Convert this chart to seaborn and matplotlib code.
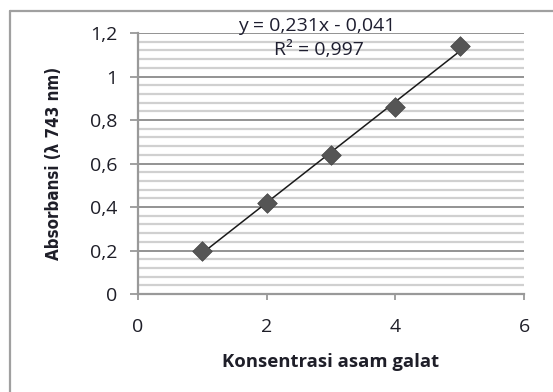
"""Calibration curve of gallic acid (absorbance vs concentration)."""

import matplotlib.pyplot as plt
import pandas as pd
import seaborn as sns
from matplotlib.lines import Line2D
from matplotlib.ticker import FixedLocator, MultipleLocator

# data
konsentrasi = [1, 2, 3, 4, 5]
absorbansi = [0.20, 0.42, 0.64, 0.86, 1.14]
x_ticks = [0, 2, 4, 6]
x_tick_labels = ["0", "2", "4", "6"]
y_ticks = [0, 0.2, 0.4, 0.6, 0.8, 1.0, 1.2]
y_tick_labels = ["0", "0,2", "0,4", "0,6", "0,8", "1", "1,2"]
equation_text = "y = 0,231x - 0,041"
r2_text = "R² = 0,997"

df = pd.DataFrame({"konsentrasi": konsentrasi, "absorbansi": absorbansi})

sns.set_style("white")
plt.rcParams["font.family"] = ["Open Sans", "DejaVu Sans"]

fig = plt.figure(figsize=(5.53, 3.92), dpi=100)
ax = fig.add_axes([0.2496, 0.25, 0.698, 0.6658])

# gridlines: light minor every 0.04, darker major every 0.2
ax.yaxis.set_minor_locator(MultipleLocator(0.04))
ax.grid(axis="y", which="minor", color="#d0d0d0", linewidth=1.6, zorder=0)
ax.grid(axis="y", which="major", color="#8a8a8a", linewidth=1.3, zorder=0)
ax.grid(axis="x", visible=False)
ax.set_axisbelow(True)

sns.regplot(data=df, x="konsentrasi", y="absorbansi", ci=None, scatter=False,
            truncate=True, color="#1a1a1a", line_kws={"linewidth": 1.1}, ax=ax)
sns.scatterplot(data=df, x="konsentrasi", y="absorbansi", marker="D", s=100,
                color="#555555", edgecolor="#444444", linewidth=0.5, zorder=3, ax=ax)

ax.set_xlim(0, 6)
ax.set_ylim(0, 1.2)
ax.xaxis.set_major_locator(FixedLocator(x_ticks))
ax.set_xticklabels(x_tick_labels)
ax.yaxis.set_major_locator(FixedLocator(y_ticks))
ax.set_yticklabels(y_tick_labels)

for side in ["top", "right"]:
    ax.spines[side].set_visible(False)
for side in ["left", "bottom"]:
    ax.spines[side].set_color("#999999")
    ax.spines[side].set_linewidth(1.6)

ax.tick_params(axis="y", which="major", left=True, length=6, width=1.3,
               color="#999999", labelsize=14, labelcolor="#1e1e28", pad=9)
ax.tick_params(axis="y", which="minor", left=False)
ax.tick_params(axis="x", bottom=True, length=4, width=1.3, color="#999999",
               labelsize=14, labelcolor="#1e1e28", pad=13)

ax.set_xlabel("Konsentrasi asam galat", fontsize=13.3, fontweight="bold",
              color="#1e1e28", va="center")
ax.xaxis.set_label_coords(0.5, -0.26)
ax.set_ylabel("Absorbansi (λ 743 nm)", fontsize=12.2, fontweight="bold",
              color="#1e1e28", family="DejaVu Sans", fontstretch="condensed",
              va="center")
ax.yaxis.set_label_coords(-0.218, 0.5)

ax.text(0.464, 1.026, equation_text, transform=ax.transAxes, ha="center",
        va="center", fontsize=14, color="#1e1e30")
ax.text(0.468, 0.935, r2_text, transform=ax.transAxes, ha="center",
        va="center", fontsize=14, color="#1e1e30")

# outer chart frame (runs off the right and bottom edges)
fig.add_artist(Line2D([10 / 553, 10 / 553], [0, 1 - 11 / 392],
                      transform=fig.transFigure, color="#a0a0a0", linewidth=1.6))
fig.add_artist(Line2D([10 / 553, 1], [1 - 11 / 392, 1 - 11 / 392],
                      transform=fig.transFigure, color="#a0a0a0", linewidth=1.6))

fig.savefig("out.png", dpi=100)
